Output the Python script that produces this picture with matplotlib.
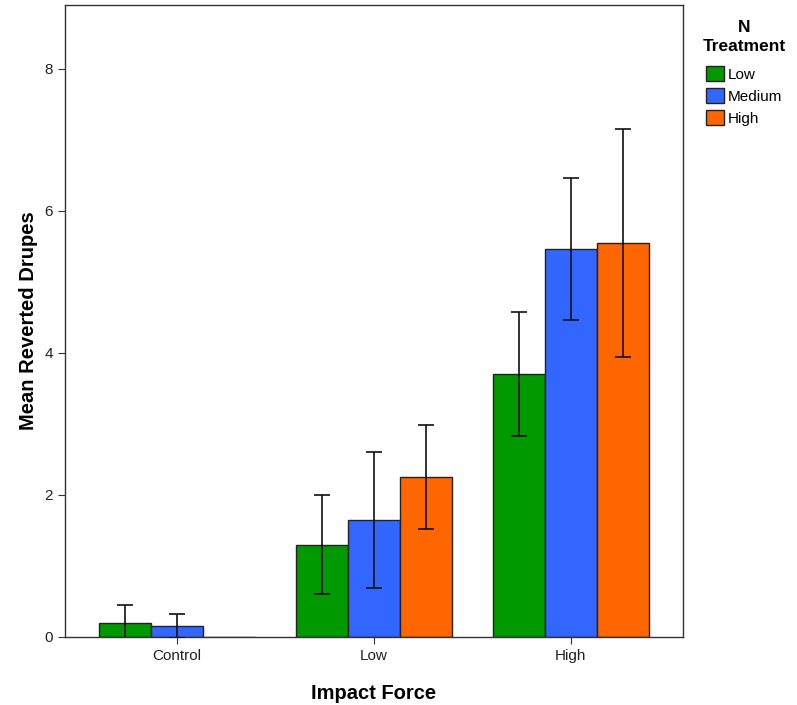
import matplotlib
matplotlib.use("Agg")
import matplotlib.pyplot as plt
import numpy as np
from matplotlib.patches import Patch

plt.rcParams['font.family'] = ['Liberation Sans', 'DejaVu Sans']

categories = ["Control", "Low", "High"]
series_names = ["Low", "Medium", "High"]
means = {
    "Low":    [0.20, 1.30, 3.70],
    "Medium": [0.15, 1.65, 5.46],
    "High":   [0.00, 2.25, 5.55],
}
errors = {
    "Low":    [0.25, 0.70, 0.87],
    "Medium": [0.17, 0.96, 1.00],
    "High":   [0.00, 0.73, 1.60],
}
colors = {"Low": "#009900", "Medium": "#3366ff", "High": "#ff6600"}

fig = plt.figure(figsize=(7.97, 7.05), dpi=100)
ax = fig.add_axes([65/797, 68/705, (683-65)/797, (637-5)/705])

x = np.arange(len(categories))
w = 0.265
for i, s in enumerate(series_names):
    pos = x + (i - 1) * w
    ax.bar(pos, means[s], width=w, color=colors[s], edgecolor="#222222", linewidth=1.0, zorder=2)
    errs = errors[s]
    mask = [e > 0 for e in errs]
    ax.errorbar(pos[mask], np.array(means[s])[mask], yerr=np.array(errs)[mask], fmt="none",
                ecolor="#111111", elinewidth=1.2, capsize=6, capthick=1.2, zorder=3)

ax.set_xlim(-0.57, 2.57)
ax.set_ylim(0, 8.9)
ax.set_yticks([0, 2, 4, 6, 8])
ax.set_xticks(x)
ax.set_xticklabels(categories)
ax.tick_params(axis='both', labelsize=11, length=5, color="#333333", labelcolor="#222222")
for sp in ax.spines.values():
    sp.set_color("#333333")
    sp.set_linewidth(1.0)

ax.set_xlabel("Impact Force", fontsize=14.5, fontweight='bold', labelpad=15)
ax.set_ylabel("Mean Reverted Drupes", fontsize=14.5, fontweight='bold', labelpad=5)

handles = [Patch(facecolor=colors[s], edgecolor="#222222", label=s) for s in series_names]
leg = fig.legend(handles=handles, title="N\nTreatment", loc="upper left",
                 bbox_to_anchor=(695/797, 1 - 12/705), frameon=False, fontsize=11,
                 handlelength=1.2, handleheight=1.1, handletextpad=0.25, labelspacing=0.42,
                 borderpad=0.0, alignment='center')
leg.get_title().set_fontweight('bold')
leg.get_title().set_fontsize(12.5)
leg.get_title().set_multialignment('center')
leg.get_title().set_linespacing(1.35)
leg._legend_box.sep = 9

fig.savefig("out.png", dpi=100)
